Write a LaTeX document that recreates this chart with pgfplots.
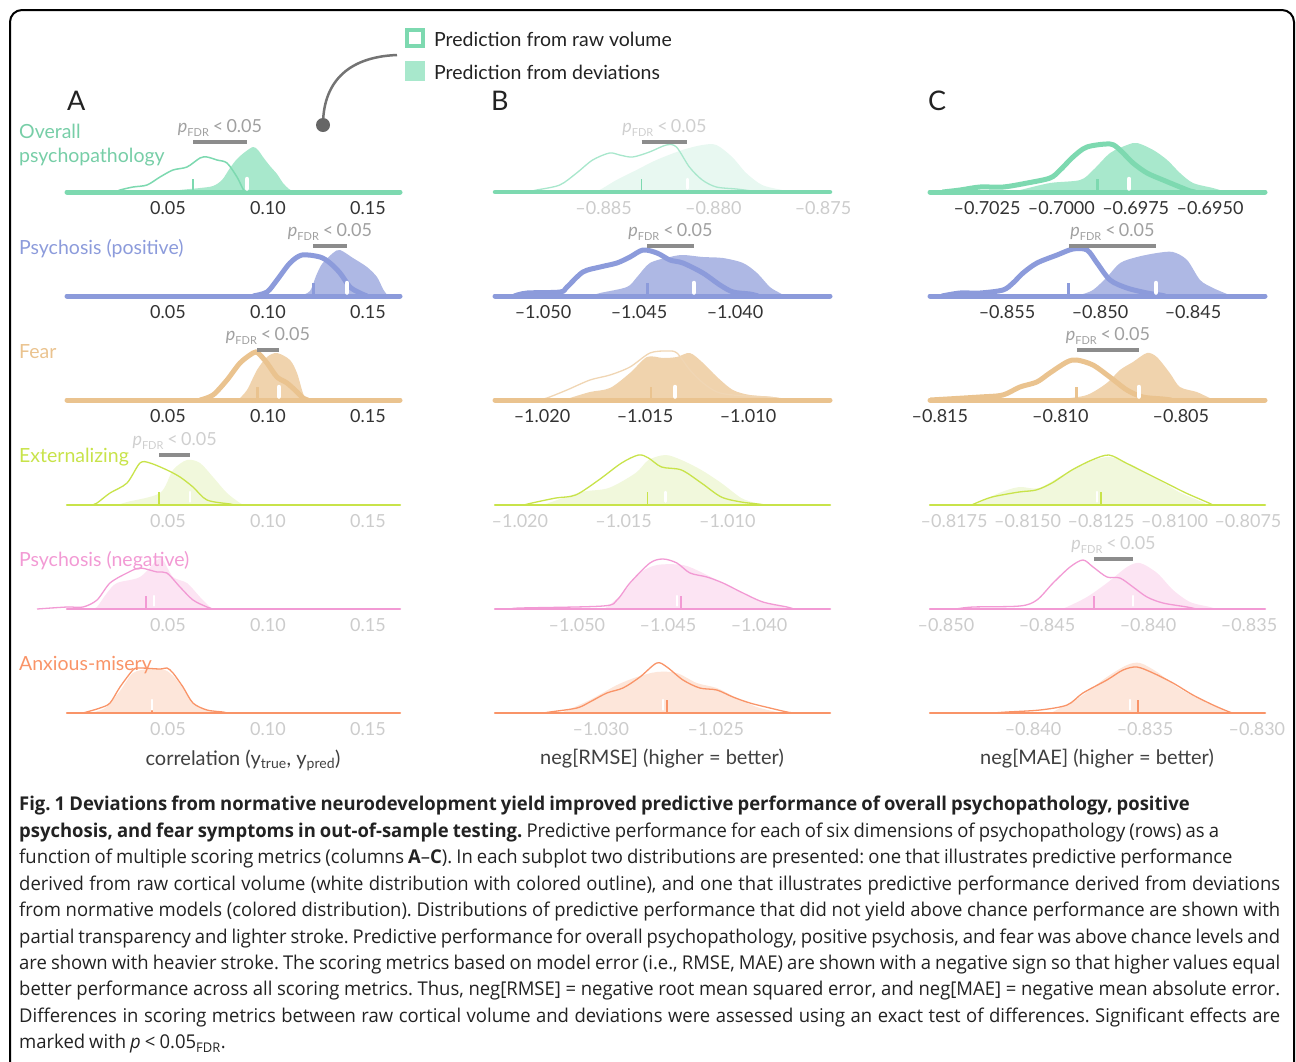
\documentclass[border=0pt]{standalone}
\usepackage{pgfplots}
\pgfplotsset{compat=1.18}
\usepackage{pgfplotstable}
\usepackage{fontspec}
\setmainfont{Lato}
\newfontfamily\capfont{Open Sans}[FakeStretch=0.972, WordSpace=0.85]

\definecolor{gL}{HTML}{7DD9B0}\definecolor{gLl}{HTML}{A8E7CC}\definecolor{gF}{HTML}{A8E8CC}\definecolor{gFl}{HTML}{E8F8F1}
\definecolor{bL}{HTML}{8C9BDB}\definecolor{bF}{HTML}{AEB8E4}
\definecolor{tL}{HTML}{EAC38F}\definecolor{tLl}{HTML}{F0D6B4}\definecolor{tF}{HTML}{F0D3AD}
\definecolor{yL}{HTML}{C8E34A}\definecolor{yF}{HTML}{F1F8DC}
\definecolor{pL}{HTML}{F29AD4}\definecolor{pF}{HTML}{FCE4F3}
\definecolor{oL}{HTML}{F99468}\definecolor{oF}{HTML}{FDE6DA}
\definecolor{tickD}{HTML}{333333}\definecolor{tickL}{HTML}{CCCCCC}
\definecolor{pfdrD}{HTML}{A0A0A0}\definecolor{pfdrL}{HTML}{CFCFCF}
\definecolor{barC}{HTML}{8C8C8C}\definecolor{txt}{HTML}{222222}

% ---------- data: raw volume (r) and deviations (d), heights in arbitrary density units
\pgfplotstableread{
x y
0.024 0
0.026 2
0.0325 5
0.0395 7
0.046 15
0.0525 22
0.0595 25
0.066 34
0.0695 35
0.0745 32
0.0795 29
0.0845 15
0.0875 3
0.089 0
}\rAa
\pgfplotstableread{
x y
0.051 0
0.056 2
0.066 4
0.0725 6
0.077 12
0.081 24
0.0845 33
0.0885 40
0.0925 45
0.095 42
0.0975 35
0.101 26
0.1045 18
0.1075 9
0.1105 3
0.1135 0
}\dAa
\pgfplotstableread{
x y
0.0925 0
0.0995 4
0.1045 16
0.111 33
0.117 41
0.126 39
0.131 33
0.136 23
0.141 9
0.146 3
0.1495 0
}\rAb
\pgfplotstableread{
x y
0.116 0
0.121 5
0.124 20
0.127 32
0.1325 43
0.136 46
0.1425 38
0.1495 29
0.1545 19
0.1575 7
0.16 0
}\dAb
\pgfplotstableread{
x y
0.066 0
0.0725 5
0.0795 20
0.086 37
0.0925 47
0.095 47
0.0995 37
0.1045 23
0.1095 17
0.1145 8
0.1175 2
0.12 0
}\rAc
\pgfplotstableread{
x y
0.085 0
0.0895 10
0.0945 30
0.0995 43
0.1045 47
0.111 40
0.1145 27
0.117 10
0.1185 2
0.12 0
}\dAc
\pgfplotstableread{
x y
0.012 0
0.0145 2
0.021 12
0.0295 22
0.036 42
0.041 42
0.0495 35
0.056 28
0.0625 18
0.0695 5
0.081 1
0.083 0
}\rAd
\pgfplotstableread{
x y
0.025 0
0.0295 3
0.046 12
0.0525 35
0.0595 45
0.066 42
0.0725 28
0.0795 12
0.086 2
0.088 0
}\dAd
\pgfplotstableread{
x y
-0.0155 0
-0.0005 2
0.0075 2
0.0145 9
0.021 26
0.0295 36
0.036 41
0.0445 37
0.0495 36
0.056 22
0.0625 9
0.0695 2
0.0725 0
}\rAe
\pgfplotstableread{
x y
0.012 0
0.0145 2
0.0195 16
0.0245 26
0.036 32
0.0445 49
0.0475 49
0.0525 32
0.0595 26
0.066 12
0.071 2
0.073 0
}\dAe
\pgfplotstableread{
x y
0.0075 0
0.016 5
0.021 10
0.026 26
0.0325 43
0.036 45
0.046 44
0.0495 45
0.0525 40
0.0575 26
0.0625 10
0.0695 3
0.0775 1
0.0795 0
}\rAf
\pgfplotstableread{
x y
0.011 0
0.0185 5
0.026 22
0.0325 40
0.041 44
0.0485 43
0.0535 35
0.0585 22
0.0635 8
0.071 2
0.077 0
}\dAf
% column B
\pgfplotstableread{
x y
-0.8885 0
-0.88805 2
-0.88700 7
-0.88623 19
-0.88550 32
-0.88473 39
-0.88427 37
-0.88368 35
-0.88291 40
-0.88214 47
-0.88168 45
-0.88109 25
-0.88050 12
-0.87986 5
-0.87895 3
-0.87823 1
-0.8778 0
}\rBa
\pgfplotstableread{
x y
-0.8855 0
-0.88518 2
-0.88441 12
-0.88350 22
-0.88259 32
-0.88141 42
-0.88050 47
-0.87986 47
-0.87914 35
-0.87850 19
-0.87777 7
-0.87686 2
-0.8765 0
}\dBa
\pgfplotstableread{
x y
-1.0515 0
-1.05083 3
-1.04911 4
-1.04875 9
-1.04792 24
-1.04703 29
-1.04615 33
-1.04547 39
-1.04479 46
-1.04406 43
-1.04339 36
-1.04271 33
-1.04167 23
-1.04078 11
-1.04010 4
-1.03922 2
-1.0388 0
}\rBb
\pgfplotstableread{
x y
-1.0475 0
-1.04703 3
-1.04563 9
-1.04510 19
-1.04443 33
-1.04339 39
-1.04271 41
-1.04167 39
-1.04063 38
-1.03958 33
-1.03885 23
-1.03818 9
-1.03766 3
-1.0374 0
}\dBb
\pgfplotstableread{
x y
-1.0202 0
-1.01976 2
-1.01879 10
-1.01767 20
-1.01670 25
-1.01573 33
-1.01476 47
-1.01393 49
-1.01345 47
-1.01282 30
-1.01218 17
-1.01150 8
-1.01073 5
-1.00908 3
-1.00830 1
-1.0080 0
}\rBc
\pgfplotstableread{
x y
-1.0189 0
-1.01864 2
-1.01767 8
-1.01670 12
-1.01573 27
-1.01490 43
-1.01413 42
-1.01345 43
-1.01282 47
-1.01218 37
-1.01150 23
-1.01073 10
-1.00990 5
-1.00879 3
-1.00830 1
-1.0080 0
}\dBc
\pgfplotstableread{
x y
-1.0198 0
-1.01942 2
-1.01827 7
-1.01731 10
-1.01620 25
-1.01510 42
-1.01428 50
-1.01380 47
-1.01317 38
-1.01221 35
-1.01125 22
-1.01029 8
-1.00933 3
-1.00851 1
-1.0082 0
}\rBd
\pgfplotstableread{
x y
-1.0189 0
-1.01861 2
-1.01702 13
-1.01572 17
-1.01442 32
-1.01380 45
-1.01298 50
-1.01221 45
-1.01125 35
-1.01029 22
-1.00933 7
-1.00865 2
-1.0084 0
}\dBd
\pgfplotstableread{
x y
-1.0535 0
-1.05313 1
-1.04857 3
-1.04780 9
-1.04709 26
-1.04599 46
-1.04527 50
-1.04451 46
-1.04379 36
-1.04286 32
-1.04198 26
-1.04088 16
-1.03978 7
-1.03846 2
-1.0381 0
}\rBe
\pgfplotstableread{
x y
-1.0486 0
-1.04835 2
-1.04747 16
-1.04654 36
-1.04560 44
-1.04418 44
-1.04308 36
-1.04159 22
-1.04011 9
-1.03868 2
-1.0384 0
}\dBe
\pgfplotstableread{
x y
-1.0325 0
-1.03222 1
-1.03104 5
-1.03048 11
-1.02974 20
-1.02904 25
-1.02830 36
-1.02757 50
-1.02713 46
-1.02643 33
-1.02570 25
-1.02496 23
-1.02426 16
-1.02352 10
-1.02265 5
-1.02191 1
-1.0216 0
}\rBf
\pgfplotstableread{
x y
-1.0319 0
-1.03165 1
-1.03048 13
-1.02930 28
-1.02843 36
-1.02757 41
-1.02670 40
-1.02583 30
-1.02496 25
-1.02409 15
-1.02322 6
-1.02235 1
-1.0221 0
}\dBf
% column C
\pgfplotstableread{
x y
-0.7040 0
-0.70341 2
-0.70274 5
-0.70196 5
-0.70115 9
-0.70038 14
-0.70004 22
-0.69961 35
-0.69914 45
-0.69836 48
-0.69803 42
-0.69759 29
-0.69712 19
-0.69658 12
-0.69601 5
-0.69567 1
-0.6955 0
}\rCa
\pgfplotstableread{
x y
-0.7018 0
-0.70139 2
-0.70038 9
-0.69937 12
-0.69893 22
-0.69836 39
-0.69779 47
-0.69745 49
-0.69691 42
-0.69644 32
-0.69601 19
-0.69557 9
-0.69490 4
-0.69456 1
-0.6944 0
}\dCa
\pgfplotstableread{
x y
-0.8585 0
-0.85753 3
-0.85645 3
-0.85522 6
-0.85468 13
-0.85414 23
-0.85339 33
-0.85231 41
-0.85145 47
-0.85070 46
-0.85016 33
-0.84946 16
-0.84855 8
-0.84747 3
-0.84677 1
-0.8465 0
}\rCb
\pgfplotstableread{
x y
-0.8513 0
-0.85108 1
-0.85038 6
-0.84962 19
-0.84892 33
-0.84801 39
-0.84694 43
-0.84608 44
-0.84532 36
-0.84462 16
-0.84392 8
-0.84317 2
-0.8429 0
}\dCb
\pgfplotstableread{
x y
-0.8154 0
-0.81334 3
-0.81239 5
-0.81168 13
-0.81098 18
-0.81044 27
-0.80973 38
-0.80932 40
-0.80865 35
-0.80795 23
-0.80724 10
-0.80658 3
-0.80575 1
-0.8054 0
}\rCc
\pgfplotstableread{
x y
-0.8100 0
-0.80990 1
-0.80890 5
-0.80807 17
-0.80753 30
-0.80699 38
-0.80641 47
-0.80600 43
-0.80546 27
-0.80504 13
-0.80434 8
-0.80380 2
-0.8035 0
}\dCc
\pgfplotstableread{
x y
-0.8169 0
-0.81675 2
-0.81621 8
-0.81529 13
-0.81471 15
-0.81417 22
-0.81349 35
-0.81281 45
-0.81223 50
-0.81165 42
-0.81097 32
-0.81029 22
-0.80961 12
-0.80883 2
-0.8087 0
}\rCd
\pgfplotstableread{
x y
-0.8168 0
-0.81665 2
-0.81597 12
-0.81529 18
-0.81461 17
-0.81369 32
-0.81301 42
-0.81223 48
-0.81145 40
-0.81063 27
-0.80985 13
-0.80906 3
-0.8089 0
}\dCd
\pgfplotstableread{
x y
-0.8495 0
-0.84866 2
-0.84634 3
-0.84550 9
-0.84470 26
-0.84386 42
-0.84322 49
-0.84272 42
-0.84203 32
-0.84139 31
-0.84074 22
-0.84005 12
-0.83926 6
-0.83807 2
-0.8376 0
}\rCe
\pgfplotstableread{
x y
-0.8443 0
-0.84401 2
-0.84302 12
-0.84203 26
-0.84104 42
-0.84040 46
-0.83955 36
-0.83876 19
-0.83792 7
-0.83693 2
-0.8366 0
}\dCe
\pgfplotstableread{
x y
-0.8418 0
-0.84116 1
-0.83969 3
-0.83848 8
-0.83777 20
-0.83670 33
-0.83598 43
-0.83536 46
-0.83464 40
-0.83375 30
-0.83286 18
-0.83196 8
-0.83134 2
-0.8311 0
}\rCf
\pgfplotstableread{
x y
-0.8392 0
-0.83879 5
-0.83790 16
-0.83670 36
-0.83580 48
-0.83522 50
-0.83446 41
-0.83357 26
-0.83268 15
-0.83179 6
-0.83134 1
-0.8311 0
}\dCf

\pgfplotsset{
  panel/.style={scale only axis, height=60pt, ymin=0, ymax=60,
    axis line style={draw=none}, major tick length=0pt, ytick=\empty, clip=false,
    anchor=south west,
    xticklabel style={font=\fontsize{18}{18}\selectfont, anchor=north, inner sep=0pt, yshift=-9.5pt}},
  dark/.style={xticklabel style={text=tickD}},
  light/.style={xticklabel style={text=tickL}},
  colA/.style={width=333pt, xmin=-0.0005, xmax=0.166, xtick={0.05,0.10,0.15}, xticklabels={0.05,0.10,0.15}},
}
% #1 raw table, #2 dev table, #3 fill colour, #4 outline colour, #5 outline width
\newcommand\dist[5]{%
  \addplot[draw=none, fill=white, smooth] table {#1} \closedcycle;
  \addplot[draw=none, fill=#3, smooth] table {#2} \closedcycle;
  \addplot[#4, line width=#5, smooth] table {#1};}
% #1 xmin, #2 xmax, #3 colour, #4 width
\newcommand\base[4]{\addplot[#3, line width=#4, line cap=round] coordinates {(#1,0) (#2,0)};}
% #1 raw median, #2 deviation median, #3 colour, #4 raw tick width, #5 white tick width
\newcommand\med[5]{%
  \addplot[#3, line width=#4] coordinates {(#1,0) (#1,13)};
  \addplot[white, line width=#5, line cap=round] coordinates {(#2,3.5) (#2,13)};}
\newcommand\pfdr{\textit{p}\raisebox{-4pt}{\fontsize{11}{11}\selectfont FDR}\hspace{0.22em}<\hspace{0.18em}0.05}
% #1 m1, #2 m2, #3 mid, #4 text colour
\newcommand\sig[4]{%
  \addplot[barC, line width=3.5pt] coordinates {(#1,50) (#2,50)};
  \node[anchor=base, text=#4, inner sep=0pt, font=\fontsize{18}{18}\selectfont] at (axis cs:#3,59.5) {\pfdr};}

\begin{document}
\frenchspacing
\begin{tikzpicture}
\path[use as bounding box] (0pt,0pt) rectangle (1296pt,-1061pt);
\begin{scope}[x=1pt,y=-1pt]
  \draw[line width=2pt, rounded corners=12pt] (10,1075) -- (10,10) -- (1294,10) -- (1294,1075);
  % legend
  \draw[gL, line width=4pt, fill=white] (407,30) rectangle (423,46);
  \fill[gF] (405,61) rectangle (425,81);
  \node[anchor=base west, inner sep=0pt, text=txt, font=\fontsize{19.5}{20}\selectfont] at (434,46) {Prediction from raw volume};
  \node[anchor=base west, inner sep=0pt, text=txt, font=\fontsize{19.5}{20}\selectfont] at (434,79) {Prediction from deviations};
  \draw[line width=2.5pt, color=black!55] (397,55) .. controls (345,57) and (323,85) .. (323,125);
  \fill[black!60] (323,125) circle (7);
  % column letters
  \node[anchor=base west, inner sep=0pt, text=txt, font=\fontsize{27}{27}\selectfont] at (67,110) {A};
  \node[anchor=base west, inner sep=0pt, text=txt, font=\fontsize{27}{27}\selectfont] at (491,110) {B};
  \node[anchor=base west, inner sep=0pt, text=txt, font=\fontsize{27}{27}\selectfont] at (928,110) {C};
  % axis titles
  \node[anchor=base, inner sep=0pt, text=black!75, font=\fontsize{20}{20}\selectfont] at (243,765) {correlation (y\textsubscript{true}, y\textsubscript{pred})};
  \node[anchor=base, inner sep=0pt, text=black!75, font=\fontsize{20}{20}\selectfont] at (662,764) {neg[RMSE] (higher = better)};
  \node[anchor=base, inner sep=0pt, text=black!75, font=\fontsize{20}{20}\selectfont] at (1097,764) {neg[MAE] (higher = better)};
  % caption
  \node[anchor=north west, inner sep=0pt, text width=1261pt, align=justify, text=txt,
        font=\capfont\fontsize{19}{26.45}\selectfont\frenchspacing] at (19,796) {%
\textbf{Fig. 1 Deviations from normative neurodevelopment yield improved predictive performance of overall psychopathology, positive}\\
\textbf{psychosis, and fear symptoms in out-of-sample testing.} Predictive performance for each of six dimensions of psychopathology (rows) as a\\
function of multiple scoring metrics (columns \textbf{A}–\textbf{C}). In each subplot two distributions are presented: one that illustrates predictive performance\\
derived from raw cortical volume (white distribution with colored outline), and one that illustrates predictive performance derived from deviations\linebreak
from normative models (colored distribution). Distributions of predictive performance that did not yield above chance performance are shown with\linebreak
partial transparency and lighter stroke. Predictive performance for overall psychopathology, positive psychosis, and fear was above chance levels and\linebreak
are shown with heavier stroke. The scoring metrics based on model error (i.e., RMSE, MAE) are shown with a negative sign so that higher values equal\linebreak
better performance across all scoring metrics. Thus, neg[RMSE] = negative root mean squared error, and neg[MAE] = negative mean absolute error.\linebreak
Differences in scoring metrics between raw cortical volume and deviations were assessed using an exact test of differences. Significant effects are\linebreak
marked with \textit{p} < 0.05\textsubscript{FDR}.};
\end{scope}

% ================= column A
\begin{axis}[panel, dark, colA, at={(67pt,-192pt)}]
  \dist{\rAa}{\dAa}{gF}{gL}{1.5pt}
  \base{-0.0005}{0.166}{gL}{5pt}
  \med{0.0625}{0.0895}{gL}{2.5pt}{4.5pt}
  \sig{0.0625}{0.0895}{0.076}{pfdrD}
\end{axis}
\begin{axis}[panel, dark, colA, at={(67pt,-296pt)}]
  \dist{\rAb}{\dAb}{bF}{bL}{5pt}
  \base{-0.0005}{0.166}{bL}{5pt}
  \med{0.1225}{0.1395}{bL}{3pt}{4.5pt}
  \sig{0.1225}{0.1395}{0.131}{pfdrD}
\end{axis}
\begin{axis}[panel, dark, colA, at={(67pt,-400pt)}]
  \dist{\rAc}{\dAc}{tF}{tL}{5pt}
  \base{-0.0005}{0.166}{tL}{5pt}
  \med{0.0945}{0.1055}{tL}{3pt}{4.5pt}
  \sig{0.0945}{0.1055}{0.1}{pfdrD}
\end{axis}
\begin{axis}[panel, light, colA, at={(67pt,-505pt)}]
  \dist{\rAd}{\dAd}{yF}{yL}{1.3pt}
  \base{-0.0005}{0.166}{yL}{2.5pt}
  \med{0.0455}{0.061}{yL}{1.5pt}{2.5pt}
  \sig{0.0455}{0.061}{0.0533}{pfdrL}
\end{axis}
\begin{axis}[panel, light, colA, at={(67pt,-609pt)}]
  \dist{\rAe}{\dAe}{pF}{pL}{1.3pt}
  \base{-0.0005}{0.166}{pL}{2.5pt}
  \med{0.039}{0.043}{pL}{1.5pt}{2.5pt}
\end{axis}
\begin{axis}[panel, light, colA, at={(67pt,-713pt)}]
  \dist{\rAf}{\dAf}{oF}{oL}{1.3pt}
  \base{-0.0005}{0.166}{oL}{2.5pt}
  \med{0.042}{0.042}{oL}{1.5pt}{2.5pt}
\end{axis}

% ================= column B
\begin{axis}[panel, light, width=335pt, at={(495pt,-192pt)}, xmin=-0.88995, xmax=-0.87468,
  xtick={-0.885,-0.880,-0.875}, xticklabels={–0.885,–0.880,–0.875}]
  \dist{\rBa}{\dBa}{gFl}{gLl}{1.3pt}
  \base{-0.88995}{-0.87468}{gL}{4.5pt}
  \med{-0.88327}{-0.88118}{gL}{1.5pt}{2.5pt}
  \sig{-0.88327}{-0.88118}{-0.882225}{pfdrL}
\end{axis}
\begin{axis}[panel, dark, width=335pt, at={(495pt,-296pt)}, xmin=-1.0525, xmax=-1.03505,
  xtick={-1.050,-1.045,-1.040}, xticklabels={–1.050,–1.045,–1.040}]
  \dist{\rBb}{\dBb}{bF}{bL}{5pt}
  \base{-1.0525}{-1.03505}{bL}{5pt}
  \med{-1.04458}{-1.04214}{bL}{3pt}{4.5pt}
  \sig{-1.04458}{-1.04214}{-1.04336}{pfdrD}
\end{axis}
\begin{axis}[panel, dark, width=335pt, at={(495pt,-400pt)}, xmin=-1.02228, xmax=-1.00602,
  xtick={-1.020,-1.015,-1.010}, xticklabels={–1.020,–1.015,–1.010}]
  \dist{\rBc}{\dBc}{tF}{tLl}{1.3pt}
  \base{-1.02228}{-1.00602}{tL}{5pt}
  \med{-1.01471}{-1.01354}{tL}{1.5pt}{4.5pt}
\end{axis}
\begin{axis}[panel, light, width=335pt, at={(495pt,-505pt)}, xmin=-1.0212, xmax=-1.00505,
  xtick={-1.020,-1.015,-1.010}, xticklabels={–1.020,–1.015,–1.010}]
  \dist{\rBd}{\dBd}{yF}{yL}{1.3pt}
  \base{-1.0212}{-1.00505}{yL}{2.5pt}
  \med{-1.01385}{-1.01298}{yL}{1.5pt}{2.5pt}
\end{axis}
\begin{axis}[panel, light, width=335pt, at={(495pt,-609pt)}, xmin=-1.0545, xmax=-1.0361,
  xtick={-1.050,-1.045,-1.040}, xticklabels={–1.050,–1.045,–1.040}]
  \dist{\rBe}{\dBe}{pF}{pL}{1.3pt}
  \base{-1.0545}{-1.0361}{pL}{2.5pt}
  \med{-1.04429}{-1.0445}{pL}{1.5pt}{2.5pt}
\end{axis}
\begin{axis}[panel, light, width=335pt, at={(495pt,-713pt)}, xmin=-1.0346, xmax=-1.02004,
  xtick={-1.030,-1.025}, xticklabels={–1.030,–1.025}]
  \dist{\rBf}{\dBf}{oF}{oL}{1.3pt}
  \base{-1.0346}{-1.02004}{oL}{2.5pt}
  \med{-1.02713}{-1.0273}{oL}{1.5pt}{2.5pt}
\end{axis}

% ================= column C
\begin{axis}[panel, dark, width=335pt, at={(930pt,-192pt)}, xmin=-0.70442, xmax=-0.69315,
  xtick={-0.7025,-0.7000,-0.6975,-0.6950}, xticklabels={–0.7025,–0.7000,–0.6975,–0.6950}]
  \dist{\rCa}{\dCa}{gF}{gL}{5pt}
  \base{-0.70442}{-0.69315}{gL}{5pt}
  \med{-0.6988}{-0.69772}{gL}{3pt}{4.5pt}
\end{axis}
\begin{axis}[panel, dark, width=335pt, at={(930pt,-296pt)}, xmin=-0.85914, xmax=-0.84113,
  xtick={-0.855,-0.850,-0.845}, xticklabels={–0.855,–0.850,–0.845}]
  \dist{\rCb}{\dCb}{bF}{bL}{5pt}
  \base{-0.85914}{-0.84113}{bL}{5pt}
  \med{-0.85167}{-0.84699}{bL}{3pt}{4.5pt}
  \sig{-0.85167}{-0.84699}{-0.84933}{pfdrD}
\end{axis}
\begin{axis}[panel, dark, width=335pt, at={(930pt,-400pt)}, xmin=-0.81541, xmax=-0.80151,
  xtick={-0.815,-0.810,-0.805}, xticklabels={–0.815,–0.810,–0.805}]
  \dist{\rCc}{\dCc}{tF}{tL}{5pt}
  \base{-0.81541}{-0.80151}{tL}{5pt}
  \med{-0.80932}{-0.80674}{tL}{3pt}{4.5pt}
  \sig{-0.80932}{-0.80674}{-0.80803}{pfdrD}
\end{axis}
\begin{axis}[panel, light, width=335pt, at={(930pt,-505pt)}, xmin=-0.81832, xmax=-0.80692,
  xtick={-0.8175,-0.8150,-0.8125,-0.8100,-0.8075}, xticklabels={–0.8175,–0.8150,–0.8125,–0.8100,–0.8075}]
  \dist{\rCd}{\dCd}{yF}{yL}{1.3pt}
  \base{-0.81832}{-0.80692}{yL}{2.5pt}
  \med{-0.8125}{-0.81264}{yL}{1.5pt}{2.5pt}
\end{axis}
\begin{axis}[panel, light, width=335pt, at={(930pt,-609pt)}, xmin=-0.85079, xmax=-0.83421,
  xtick={-0.850,-0.845,-0.840,-0.835}, xticklabels={–0.850,–0.845,–0.840,–0.835}]
  \dist{\rCe}{\dCe}{pF}{pL}{1.3pt}
  \base{-0.85079}{-0.83421}{pL}{2.5pt}
  \med{-0.84267}{-0.84074}{pL}{1.5pt}{2.5pt}
  \sig{-0.84267}{-0.84074}{-0.841705}{pfdrL}
\end{axis}
\begin{axis}[panel, light, width=335pt, at={(930pt,-713pt)}, xmin=-0.8446, xmax=-0.82964,
  xtick={-0.840,-0.835,-0.830}, xticklabels={–0.840,–0.835,–0.830}]
  \dist{\rCf}{\dCf}{oF}{oL}{1.3pt}
  \base{-0.8446}{-0.82964}{oL}{2.5pt}
  \med{-0.83531}{-0.83567}{oL}{1.5pt}{2.5pt}
\end{axis}

% row labels (on top)
\begin{scope}[x=1pt,y=-1pt]
  \node[anchor=base west, inner sep=0pt, text=gL!95!black, font=\fontsize{19.5}{20}\selectfont] at (19,138) {Overall};
  \node[anchor=base west, inner sep=0pt, text=gL!95!black, font=\fontsize{19.5}{20}\selectfont] at (19,162) {psychopathology};
  \node[anchor=base west, inner sep=0pt, text=bL, font=\fontsize{19.5}{20}\selectfont] at (19,254) {Psychosis (positive)};
  \node[anchor=base west, inner sep=0pt, text=tL, font=\fontsize{19.5}{20}\selectfont] at (19,358) {Fear};
  \node[anchor=base west, inner sep=0pt, text=yL, font=\fontsize{19.5}{20}\selectfont] at (19,462) {Externalizing};
  \node[anchor=base west, inner sep=0pt, text=pL, font=\fontsize{19.5}{20}\selectfont] at (19,566) {Psychosis (negative)};
  \node[anchor=base west, inner sep=0pt, text=oL, font=\fontsize{19.5}{20}\selectfont] at (19,670) {Anxious-misery};
\end{scope}
\end{tikzpicture}
\end{document}
